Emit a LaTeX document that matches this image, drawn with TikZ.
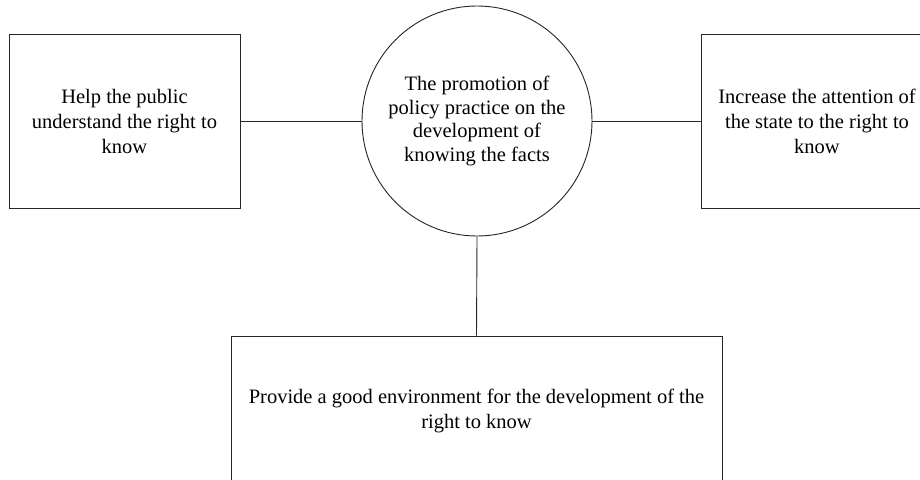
\documentclass[tikz,border=0pt]{standalone}
\usepackage{fontspec}
\setmainfont{Liberation Serif}
\usetikzlibrary{positioning}
\definecolor{ink}{HTML}{262626}
\tikzset{
  rbox/.style={draw=ink, line width=0.9pt, fill=white, align=center,
    font=\fontsize{20.5}{25}\selectfont, inner sep=0pt},
  hub/.style={circle, draw=ink, line width=0.9pt, fill=white, align=center,
    minimum size=230pt, inner sep=0pt, font=\fontsize{20.5}{23.5}\selectfont},
  link/.style={draw=ink, line width=0.9pt},
}
\begin{document}
\begin{tikzpicture}[x=1pt,y=-1pt]
  \useasboundingbox (0,0) rectangle (920,479);
  \clip (0,0) rectangle (920,479);
  % hub and three outcomes
  \node[hub] (promo) at (477,121) {The promotion of\\policy practice on the\\development of\\knowing the facts};
  \node[rbox, minimum width=231pt, minimum height=174pt] (pub) at (124.5,121)
    {Help the public\\understand the right to\\know};
  \node[rbox, minimum width=232pt, minimum height=174pt] (state) at (817,121)
    {Increase the attention of\\the state to the right to\\know};
  \node[rbox, minimum width=491pt, minimum height=150pt] (env) at (476.5,411)
    {Provide a good environment for the development of the\\right to know};
  % links
  \draw[link] (pub.east) -- (promo.west);
  \draw[link] (promo.east) -- (state.west);
  \draw[link] (promo.south) -- (env.north);
\end{tikzpicture}
\end{document}
